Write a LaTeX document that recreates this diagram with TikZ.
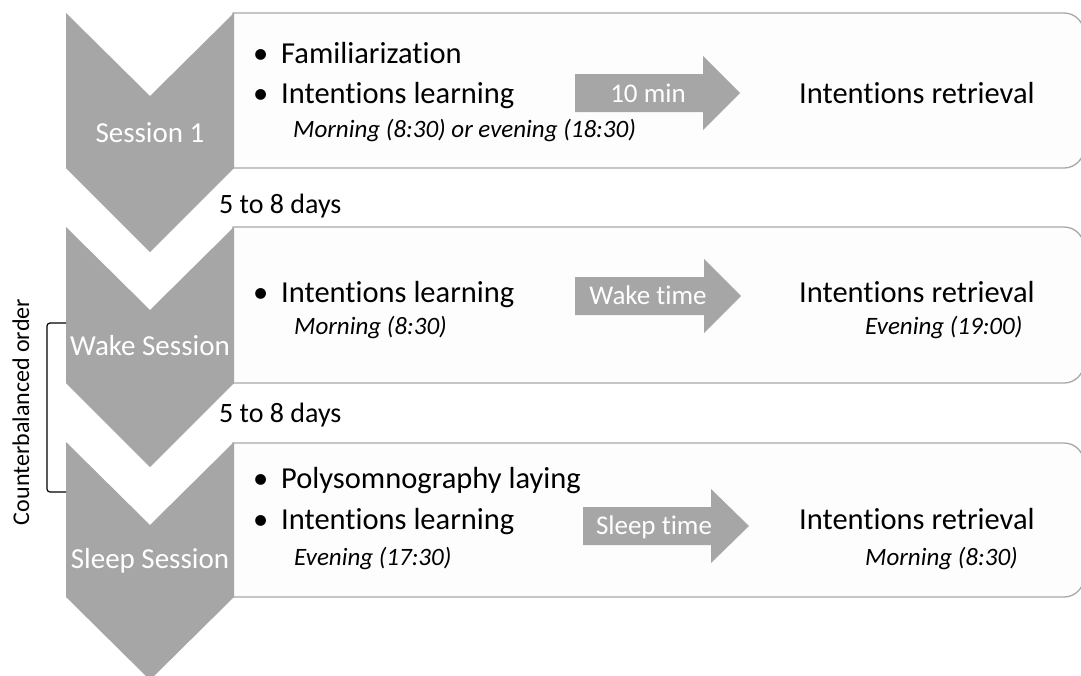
\documentclass[tikz,border=0pt]{standalone}
\usepackage{fontspec}
\setmainfont[Ligatures=NoCommon]{Carlito}
\definecolor{chevgray}{HTML}{A6A6A6}
\definecolor{boxline}{HTML}{A8A8A8}
\definecolor{boxfill}{HTML}{FDFDFD}
\newcommand{\bul}{\makebox[31pt][l]{\hspace{3pt}•}}
\begin{document}
\begin{tikzpicture}[x=1pt,y=-1pt,
  chev/.style={fill=chevgray, draw=none},
  sbox/.style={draw=boxline, fill=boxfill, line width=1.3pt},
  blockarrow/.style={fill=chevgray, draw=none},
  maintxt/.style={font=\fontsize{30.5}{36}\selectfont, anchor=base west, inner sep=0pt},
  itxt/.style={font=\fontsize{25}{30}\selectfont\itshape, anchor=base west, inner sep=0pt},
  arrtxt/.style={font=\fontsize{27}{32}\selectfont, text=white, anchor=base, inner sep=0pt},
  sesstxt/.style={font=\fontsize{29}{34}\selectfont, text=white, anchor=base, inner sep=0pt},
  daytxt/.style={font=\fontsize{28}{33}\selectfont, anchor=base west, inner sep=0pt},
  sidetxt/.style={font=\fontsize{24}{29}\selectfont, anchor=base, inner sep=0pt, rotate=90}
]
\useasboundingbox (0,0) rectangle (1081,675);
\clip (0,0) rectangle (1081,675);
\fill[white] (0,0) rectangle (1081,675);

% boxes
\path[sbox] (233,13) -- (1064,13) arc[start angle=-90, end angle=0, radius=20] -- (1084,148) arc[start angle=0, end angle=90, radius=20] -- (233,168) -- cycle;
\path[sbox] (233,227) -- (1064,227) arc[start angle=-90, end angle=0, radius=20] -- (1084,363) arc[start angle=0, end angle=90, radius=20] -- (233,383) -- cycle;
\path[sbox] (233,443) -- (1064,443) arc[start angle=-90, end angle=0, radius=20] -- (1084,577) arc[start angle=0, end angle=90, radius=20] -- (233,597) -- cycle;

% chevrons
\path[chev] (66,13) -- (150,96) -- (234,13) -- (234,168) -- (150,252) -- (66,168) -- cycle;
\path[chev] (66,227) -- (150,310) -- (234,227) -- (234,383) -- (150,467) -- (66,383) -- cycle;
\path[chev] (66,442) -- (150,525) -- (234,442) -- (234,597) -- (150,680) -- (66,597) -- cycle;

% block arrows
\path[blockarrow] (575,74) -- (703,74) -- (703,56) -- (740,93) -- (703,130) -- (703,112) -- (575,112) -- cycle;
\path[blockarrow] (575,277) -- (704,277) -- (704,259) -- (741,296) -- (704,333) -- (704,315) -- (575,315) -- cycle;
\path[blockarrow] (583,507) -- (711,507) -- (711,489) -- (749,526) -- (711,563) -- (711,545) -- (583,545) -- cycle;

% session labels
\node[sesstxt] (s1) at (150,142) {Session 1};
\node[sesstxt] (s2) at (150,355) {Wake Session};
\node[sesstxt] (s3) at (150,568) {Sleep Session};

% box 1
\node[maintxt] (b1a) at (250,63) {\bul Familiarization};
\node[maintxt] (b1b) at (250,103) {\bul Intentions learning};
\node[itxt] (b1c) at (293,137) {Morning (8:30) or evening (18:30)};
\node[arrtxt] (a1) at (648,102) {10 min};
\node[maintxt] (b1d) at (799,103) {Intentions retrieval};

% box 2
\node[maintxt] (b2a) at (250,302) {\bul Intentions learning};
\node[itxt] (b2b) at (294,334) {Morning (8:30)};
\node[arrtxt] (a2) at (648,304) {Wake time};
\node[maintxt] (b2c) at (799,302) {Intentions retrieval};
\node[itxt] (b2d) at (865,334) {Evening (19:00)};

% box 3
\node[maintxt] (b3a) at (250,488) {\bul Polysomnography laying};
\node[maintxt] (b3b) at (250,529) {\bul Intentions learning};
\node[itxt] (b3c) at (294,565) {Evening (17:30)};
\node[arrtxt] (a3) at (654,534) {Sleep time};
\node[maintxt] (b3d) at (799,529) {Intentions retrieval};
\node[itxt] (b3e) at (865,565) {Morning (8:30)};

% intervals
\node[daytxt] (d1) at (219,213) {5 to 8 days};
\node[daytxt] (d2) at (219,422) {5 to 8 days};

% counterbalanced bracket
\coordinate (bt) at (66,323);
\coordinate (bb) at (66,492);
\draw[black, line width=1.2pt, rounded corners=3pt] (bt) -- (47,323) -- (47,492) -- (bb);
\node[sidetxt] (cb) at (29,412) {Counterbalanced order};
\end{tikzpicture}
\end{document}
